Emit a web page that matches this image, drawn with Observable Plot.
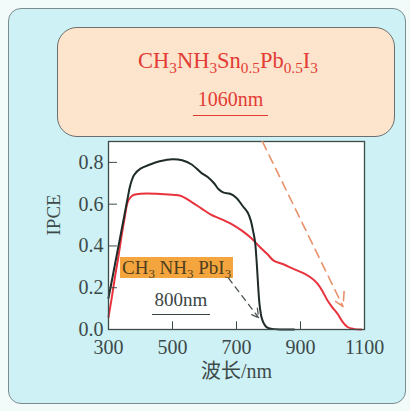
<!DOCTYPE html>
<html><head><meta charset="utf-8">
<script src="https://cdn.jsdelivr.net/npm/d3@7"></script>
<script src="https://cdn.jsdelivr.net/npm/@observablehq/plot@0.6"></script>
<style>
html,body{margin:0;padding:0;background:#f3fafa;}
#wrap{position:relative;width:410px;height:411px;overflow:hidden;font-family:"Liberation Serif","Noto Sans CJK SC",serif;}
#panel{position:absolute;left:8px;top:8px;width:398px;height:396px;border:1.5px solid #7b8c90;border-radius:13px;background:#cdf1f4;box-sizing:border-box;}
#chart{position:absolute;left:0;top:0;}
#chart svg, #chart svg text{font-family:"Liberation Serif","Noto Sans CJK SC",serif !important;}
#box{position:absolute;left:57px;top:27px;width:338px;height:110px;box-sizing:border-box;border:1.5px solid #6d6f6e;border-radius:20px;background:#fde4cd;}
.t{position:absolute;white-space:nowrap;line-height:1;}
sub{font-size:0.68em;vertical-align:-0.32em;line-height:0;}
</style></head>
<body>
<div id="wrap">
  <div id="panel"></div>
  <div id="box"></div>
  <div id="chart"></div>
  <div class="t" id="title" style="left:0;width:456px;text-align:center;top:50px;font-size:22.5px;color:#e23c34;">CH<sub>3</sub>NH<sub>3</sub>Sn<sub>0.5</sub>Pb<sub>0.5</sub>I<sub>3</sub></div>
  <div class="t" style="left:193px;top:89px;width:75px;text-align:center;font-size:20px;color:#e23c34;padding-bottom:6px;border-bottom:1.8px solid #e23c34;">1060nm</div>
  <div class="t" style="left:120px;top:257px;height:21px;line-height:21px;padding:0 2px;background:#f5a53e;font-size:19px;color:#4d4020;">CH<sub>3</sub> NH<sub>3</sub> PbI<sub>3</sub></div>
  <div class="t" style="left:152px;top:290px;width:58px;text-align:center;font-size:19px;color:#3b4646;padding-bottom:5px;border-bottom:1.5px solid #3b4646;">800nm</div>
</div>
<script>
// CH3NH3PbI3 (black curve)
const blackX = [300,310,320,330,340,350,360,368,380,400,430,460,500,530,560,590,610,630,645,660,680,700,720,735,745,752,758,764,768,772,778,785,795,810,840,880];
const blackY = [0.15,0.23,0.31,0.39,0.47,0.55,0.63,0.69,0.74,0.77,0.79,0.805,0.815,0.81,0.79,0.75,0.73,0.70,0.67,0.655,0.65,0.63,0.59,0.56,0.52,0.47,0.42,0.30,0.20,0.12,0.06,0.03,0.01,0.003,0,0];
// CH3NH3Sn0.5Pb0.5I3 (red curve)
const redX = [300,310,320,330,340,350,360,370,380,400,450,500,525,560,590,620,650,690,720,744,770,797,816,850,878,909,931,953,970,984,1000,1016,1030,1047,1065,1090];
const redY = [0.06,0.15,0.25,0.34,0.44,0.53,0.61,0.635,0.645,0.65,0.65,0.645,0.64,0.61,0.58,0.55,0.53,0.50,0.47,0.44,0.40,0.36,0.33,0.31,0.29,0.27,0.25,0.22,0.18,0.14,0.105,0.075,0.04,0.012,0.003,0];
const xTicks = [300,500,700,900,1100];
const yTicks = [0,0.2,0.4,0.6,0.8];
const xInner = [500,700,900];
const yInner = [0.2,0.4,0.6,0.8];
// annotation arrows (data coordinates)
const arrowRed = [{x1:781,y1:0.9,x2:1033,y2:0.11}];
const arrowBlack = [{x1:675,y1:0.246,x2:769,y2:0.057}];

const black = blackX.map((x,i)=>({x,y:blackY[i]}));
const red = redX.map((x,i)=>({x,y:redY[i]}));

const ff = "'Liberation Serif','Noto Sans CJK SC',serif";
const axisColor = "#3d4a4a";
const chart = Plot.plot({
  width:410, height:411,
  marginLeft:108, marginRight:46, marginTop:141, marginBottom:82,
  style:{background:"transparent", fontFamily:ff, color:axisColor, overflow:"visible"},
  x:{domain:[300,1100]},
  y:{domain:[0,0.9]},
  marks:[
    Plot.frame({fill:"white", stroke:"none"}),
    Plot.line(red,{x:"x",y:"y",stroke:"#e8323c",strokeWidth:2,curve:"catmull-rom"}),
    Plot.line(black,{x:"x",y:"y",stroke:"#1f2b29",strokeWidth:2,curve:"catmull-rom"}),
    Plot.ruleX(xInner,{y1:0,y2:0.037,stroke:axisColor,strokeWidth:1}),
    Plot.ruleY(yInner,{x1:300,x2:328,stroke:axisColor,strokeWidth:1}),
    Plot.frame({stroke:axisColor,strokeWidth:1.3}),
    Plot.axisX(xTicks,{tickSize:0,tickPadding:10,fontSize:20,fontFamily:ff,label:null,tickFormat:d=>String(d),fill:axisColor}),
    Plot.axisY(yTicks,{tickSize:0,tickPadding:5,fontSize:20,fontFamily:ff,label:null,tickFormat:d3.format(".1f"),fill:axisColor}),
    Plot.text(["波长/nm"],{frameAnchor:"bottom",dy:48,fontSize:20,fontFamily:ff,fill:axisColor}),
    Plot.text(["IPCE"],{frameAnchor:"left",dx:-55,rotate:-90,fontSize:19,fontFamily:ff,fill:axisColor}),
    Plot.arrow(arrowRed,{x1:"x1",y1:"y1",x2:"x2",y2:"y2",stroke:"#e8916a",strokeWidth:1.6,strokeDasharray:"9,6",headLength:14}),
    Plot.arrow(arrowBlack,{x1:"x1",y1:"y1",x2:"x2",y2:"y2",stroke:"#4a5252",strokeWidth:1.3,strokeDasharray:"6,5",headLength:11})
  ]
});
document.getElementById("chart").appendChild(chart);
</script>
</body></html>
